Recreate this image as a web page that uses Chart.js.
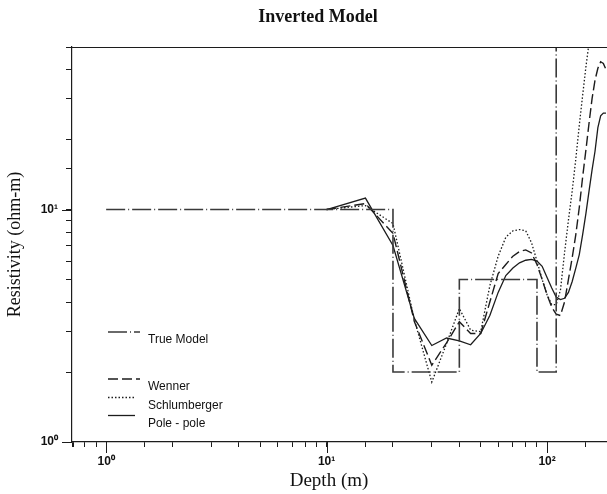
<!DOCTYPE html>
<html>
<head>
<meta charset="utf-8">
<script src="https://cdn.jsdelivr.net/npm/chart.js@4.4.0/dist/chart.umd.min.js"></script>
<style>
  html, body { margin: 0; padding: 0; background: #fff; }
</style>
</head>
<body>
<canvas id="chart" width="607" height="494"></canvas>
<script>
// data
const depths = [10, 15, 20, 25, 30, 35, 40, 45, 50, 55, 60, 65, 70, 75, 80, 85, 90, 95,
  100, 105, 110, 115, 120, 125, 130, 135, 140, 145, 150, 155, 160, 165, 170, 175, 180, 185];
const wennerValues = [10, 10.6, 7.9, 3.3, 2.14, 2.67, 3.29, 2.93, 2.93, 4.0, 5.3, 5.8, 6.3, 6.6, 6.7, 6.5, 5.8, 5.0,
  4.3, 3.8, 3.55, 3.5, 4.0, 5.0, 6.2, 7.8, 10.2, 13.8, 18.0, 23.5, 30, 36, 40.5, 43.2, 42.5, 40];
const schlumValues = [10, 10.4, 8.7, 3.36, 1.81, 2.65, 3.75, 3.03, 2.98, 4.7, 6.3, 7.6, 8.1, 8.2, 8.1, 7.2, 6.0, 5.0,
  4.3, 3.9, 3.9, 4.5, 6.5, 9.0, 12.0, 16.5, 23, 31, 41, 52, 64, 78, 92, 105, 118, 130];
const poleValues = [10, 11.2, 7.0, 3.4, 2.6, 2.8, 2.72, 2.62, 2.93, 3.5, 4.4, 5.2, 5.6, 5.9, 6.05, 6.1, 6.0, 5.7,
  5.1, 4.6, 4.2, 4.1, 4.15, 4.4, 4.9, 5.6, 6.4, 7.8, 9.6, 12.0, 14.8, 17.8, 22.5, 25.3, 26, 26];
const trueDepths = [1, 20, 20, 40, 40, 90, 90, 110, 110];
const trueValues = [10, 10, 2, 2, 5, 5, 2, 2, 1000];
const seriesNames = ['True Model', 'Wenner', 'Schlumberger', 'Pole - pole'];
const xMajorTicks = [1, 10, 100];
const yMajorTicks = [1, 10];

function pts(xs, ys) {
  return xs.map(function (x, i) { return { x: x, y: ys[i] }; });
}

const supers = { '0': '\u2070', '1': '\u00b9', '2': '\u00b2' };
function powLabel(v) {
  const e = Math.log10(v);
  if (Math.abs(e - Math.round(e)) > 1e-6) return '';
  return '10' + String(Math.round(e)).split('').map(function (c) { return supers[c]; }).join('');
}

const ink = '#1c1c1c';
const tickFont = { family: 'Liberation Sans', size: 12, weight: 'bold' };

// title, top frame, long major ticks and the legend box
const extras = {
  id: 'extras',
  afterDraw(chart) {
    const ctx = chart.ctx;
    const area = chart.chartArea;
    const xs = chart.scales.x, ys = chart.scales.y;
    ctx.save();
    ctx.strokeStyle = ink;
    ctx.lineWidth = 1.2;
    ctx.beginPath();
    ctx.moveTo(area.left, area.top + 0.5);
    ctx.lineTo(area.right, area.top + 0.5);
    ctx.stroke();

    ctx.lineWidth = 1;
    xMajorTicks.forEach(function (v) {
      const px = Math.round(xs.getPixelForValue(v)) + 0.5;
      ctx.beginPath();
      ctx.moveTo(px, area.bottom);
      ctx.lineTo(px, area.bottom + 11);
      ctx.stroke();
    });
    yMajorTicks.forEach(function (v) {
      const py = Math.round(ys.getPixelForValue(v)) + 0.5;
      ctx.beginPath();
      ctx.moveTo(area.left - 10, py);
      ctx.lineTo(area.left, py);
      ctx.stroke();
    });

    ctx.fillStyle = '#111';
    ctx.textAlign = 'center';
    ctx.textBaseline = 'middle';
    ctx.font = 'bold 18px "Liberation Serif"';
    ctx.fillText('Inverted Model', 318, 17);
    ctx.font = '19px "Liberation Serif"';
    ctx.fillText('Depth (m)', 329, 481);

    // legend
    const rows = [
      { lineY: 332, textY: 340, x2: 140 },
      { lineY: 379, textY: 387, x2: 140 },
      { lineY: 397.5, textY: 406, x2: 135 },
      { lineY: 415.5, textY: 424, x2: 135 }
    ];
    ctx.font = '12px "Liberation Sans"';
    ctx.textAlign = 'left';
    rows.forEach(function (r, i) {
      const ds = chart.data.datasets[i];
      ctx.strokeStyle = ds.borderColor;
      ctx.lineWidth = ds.borderWidth;
      ctx.setLineDash(ds.borderDash || []);
      ctx.beginPath();
      ctx.moveTo(108, r.lineY);
      ctx.lineTo(r.x2, r.lineY);
      ctx.stroke();
      ctx.setLineDash([]);
      ctx.fillStyle = '#111';
      ctx.fillText(ds.label, 148, r.textY);
    });
    ctx.restore();
  }
};

new Chart(document.getElementById('chart'), {
  type: 'line',
  data: {
    datasets: [
      { label: seriesNames[0], data: pts(trueDepths, trueValues), borderColor: '#3a3a3a', borderWidth: 1.6, borderDash: [19, 3, 1, 3] },
      { label: seriesNames[1], data: pts(depths, wennerValues), borderColor: ink, borderWidth: 1.4, borderDash: [10, 4] },
      { label: seriesNames[2], data: pts(depths, schlumValues), borderColor: ink, borderWidth: 1.3, borderDash: [1.5, 2] },
      { label: seriesNames[3], data: pts(depths, poleValues), borderColor: ink, borderWidth: 1.3 }
    ]
  },
  options: {
    responsive: false,
    animation: false,
    layout: { padding: { top: 47, left: 0, right: 0, bottom: 0 } },
    elements: { point: { radius: 0 }, line: { tension: 0, fill: false } },
    plugins: { legend: { display: false }, tooltip: { enabled: false } },
    scales: {
      x: {
        type: 'logarithmic',
        min: 0.71,
        max: 187,
        afterFit: function (s) { s.height = 52; s.paddingLeft = 0; s.paddingRight = 0; },
        border: { display: true, color: ink, width: 1.2 },
        grid: { drawOnChartArea: false, drawTicks: true, tickLength: 5, tickColor: ink, tickWidth: 1 },
        ticks: { autoSkip: false, maxRotation: 0, padding: 7, color: '#111', font: tickFont, callback: powLabel }
      },
      y: {
        type: 'logarithmic',
        min: 1,
        max: 50,
        afterFit: function (s) { s.width = 72; },
        border: { display: true, color: ink, width: 1.2 },
        grid: { drawOnChartArea: false, drawTicks: true, tickLength: 6, tickColor: ink, tickWidth: 1 },
        ticks: { autoSkip: false, padding: 8, color: '#111', font: tickFont, callback: powLabel },
        title: { display: true, text: 'Resistivity (ohm-m)', color: '#111', font: { family: 'Liberation Serif', size: 18 }, padding: { top: 4, bottom: 0 } }
      }
    }
  },
  plugins: [extras]
});
</script>
</body>
</html>
